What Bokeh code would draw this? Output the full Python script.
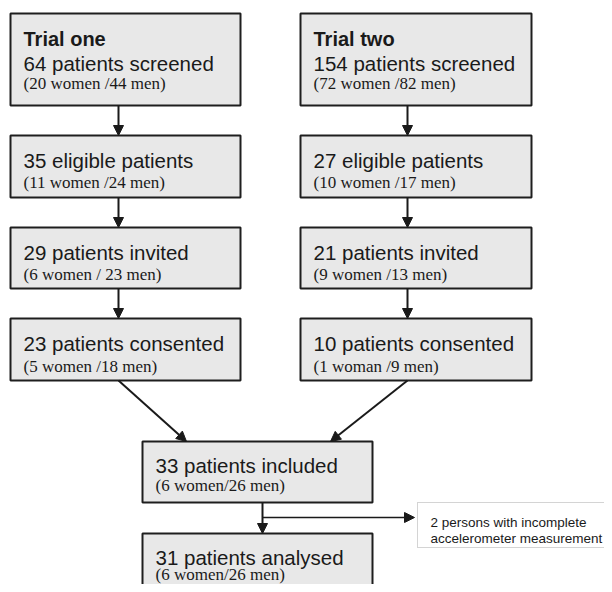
from bokeh.plotting import figure
from bokeh.models import Range1d, Arrow, NormalHead, ColumnDataSource
from bokeh.core.properties import value
from bokeh.embed import file_html
from bokeh.resources import INLINE

# ---- content ----
headings = ["Trial one", "Trial two"]
main_labels = ["64 patients screened", "154 patients screened",
               "35 eligible patients", "27 eligible patients",
               "29 patients invited", "21 patients invited",
               "23 patients consented", "10 patients consented",
               "33 patients included", "31 patients analysed"]
sub_labels = ["(20 women /44 men)", "(72 women /82 men)",
              "(11 women /24 men)", "(10 women /17 men)",
              "(6 women / 23 men)", "(9 women /13 men)",
              "(5 women /18 men)", "(1 woman /9 men)",
              "(6 women/26 men)", "(6 women/26 men)"]
excluded_lines = ["2 persons with incomplete", "accelerometer measurement"]

# ---- layout (pixel-like units) ----
box_left = [10, 300, 10, 300, 10, 300, 10, 300, 142, 142]
box_right = [240, 531, 240, 531, 240, 531, 240, 531, 372, 372]
box_top = [13, 13, 135, 135, 227, 227, 318, 318, 441, 533]
box_bottom = [105, 105, 197, 197, 288, 288, 380, 380, 502, 610]
first_main_off = [50, 50, 25, 25, 25, 25, 25, 25, 24, 24]
first_sub_off = [70, 70, 47, 47, 47, 47, 48, 48, 44, 41]

W, H = 604, 584
p = figure(width=W, height=H, x_range=Range1d(0, W), y_range=Range1d(H, 0),
           output_backend="svg", toolbar_location=None, min_border=0)
p.axis.visible = False
p.grid.visible = False
p.outline_line_color = None
p.background_fill_color = "white"

src = ColumnDataSource(dict(left=box_left, right=box_right, top=box_top, bottom=box_bottom))
p.quad(left="left", right="right", top="top", bottom="bottom", source=src,
       fill_color="#e8e8e8", line_color="#1e1e1e", line_width=2)

# dotted exclusion box
p.quad(left=[417], right=[640], top=[502], bottom=[547], fill_color="white",
       line_color="#a8a8a8", line_width=1, line_dash="1 1")

tx = [l + 13 for l in box_left]
p.text(x=[tx[0], tx[1]], y=[box_top[0] + 25, box_top[1] + 25], text=headings,
       text_font=value("Liberation Sans"), text_font_style="bold",
       text_font_size="20px", text_color="#1a1a1a", text_baseline="alphabetic")
p.text(x=tx, y=[t + o for t, o in zip(box_top, first_main_off)], text=main_labels,
       text_font=value("Liberation Sans"), text_font_size="20.5px",
       text_color="#1a1a1a", text_baseline="alphabetic")
p.text(x=tx, y=[t + o for t, o in zip(box_top, first_sub_off)], text=sub_labels,
       text_font=value("Liberation Serif"), text_font_size="17px",
       text_color="#1a1a1a", text_baseline="alphabetic")
p.text(x=[430, 430], y=[522, 538], text=excluded_lines,
       text_font=value("Liberation Sans"), text_font_size="13.5px",
       text_color="#1a1a1a", text_baseline="alphabetic")

def arrow(x0, y0, x1, y1, lw=2):
    p.add_layout(Arrow(end=NormalHead(size=10, fill_color="#1a1a1a", line_color="#1a1a1a", line_width=1),
                       x_start=x0, y_start=y0, x_end=x1, y_end=y1,
                       line_color="#1a1a1a", line_width=lw))

for cx in (118, 407):
    for i in range(3):
        arrow(cx, box_bottom[2 * i], cx, box_top[2 * i + 2])
arrow(118, 380, 186, 441)
arrow(407, 380, 330, 441)
arrow(262, 502, 262, 533)
arrow(262, 517, 414, 517, lw=1.5)

open("out.html", "w").write(file_html(p, INLINE))
